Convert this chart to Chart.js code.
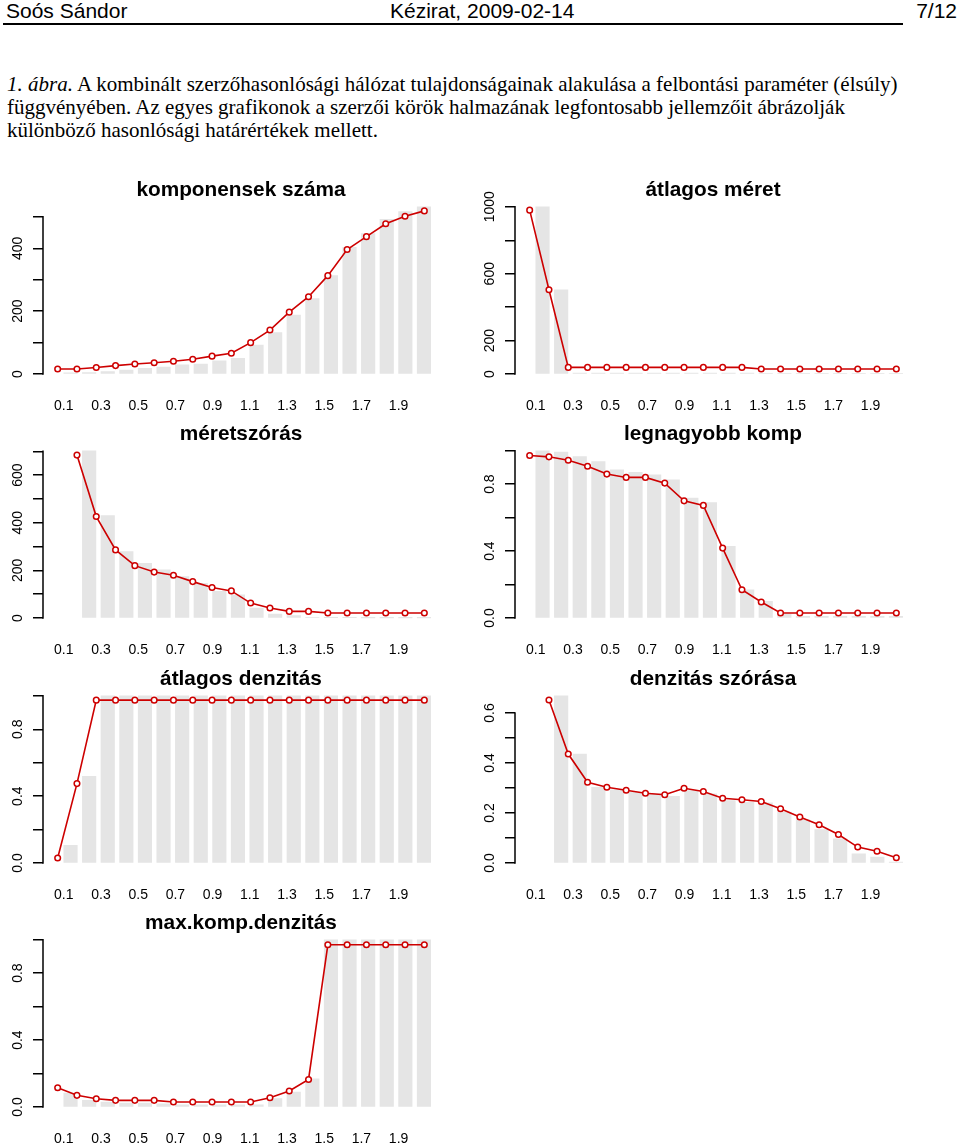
<!DOCTYPE html>
<html>
<head>
<meta charset="utf-8">
<script src="https://cdn.jsdelivr.net/npm/chart.js@4.4.1/dist/chart.umd.min.js"></script>
<style>
  body { margin: 0; background: #fff; width: 960px; height: 1146px; overflow: hidden; position: relative; }
  .hdr { position: absolute; top: 0; font: 21px "Liberation Sans", Arial, sans-serif; line-height: 21px; white-space: nowrap; }
  #rule { position: absolute; left: 3px; top: 23px; width: 900px; height: 2px; background: #000; }
  #cap { position: absolute; left: 7px; top: 73.4px; font: 21px "Liberation Serif", "Times New Roman", serif; line-height: 23px; white-space: nowrap; }
  .panel { position: absolute; width: 470px; height: 244px; }
</style>
</head>
<body>
<div class="hdr" style="left:6px">Soós Sándor</div>
<div class="hdr" style="left:390px">Kézirat, 2009-02-14</div>
<div class="hdr" style="right:3px">7/12</div>
<div id="rule"></div>
<div id="cap">
  <i>1. ábra.</i> A kombinált szerzőhasonlósági hálózat tulajdonságainak alakulása a felbontási paraméter (élsúly)<br>
  függvényében. Az egyes grafikonok a szerzői körök halmazának legfontosabb jellemzőit ábrázolják<br>
  különböző hasonlósági határértékek mellett.
</div>

<div class="panel" style="left:0;top:170px"><canvas id="c1" width="470" height="244"></canvas></div>
<div class="panel" style="left:472px;top:170px"><canvas id="c2" width="470" height="244"></canvas></div>
<div class="panel" style="left:0;top:414px"><canvas id="c3" width="470" height="244"></canvas></div>
<div class="panel" style="left:472px;top:414px"><canvas id="c4" width="470" height="244"></canvas></div>
<div class="panel" style="left:0;top:659px"><canvas id="c5" width="470" height="244"></canvas></div>
<div class="panel" style="left:472px;top:659px"><canvas id="c6" width="470" height="244"></canvas></div>
<div class="panel" style="left:0;top:903px"><canvas id="c7" width="470" height="244"></canvas></div>

<script>
// felbontási paraméter (élsúly)
const params = [0.1, 0.2, 0.3, 0.4, 0.5, 0.6, 0.7, 0.8, 0.9, 1.0, 1.1, 1.2, 1.3, 1.4, 1.5, 1.6, 1.7, 1.8, 1.9, 2.0];
const xTicks = [0.1, 0.3, 0.5, 0.7, 0.9, 1.1, 1.3, 1.5, 1.7, 1.9];

// komponensek száma
const kompBars = [4, 5, 8, 13, 18, 22, 29, 32, 42, 50, 92, 132, 188, 240, 313, 403, 447, 492, 517, 532];
const kompLine = [16, 16, 21, 27, 32, 36, 41, 47, 57, 66, 100, 140, 197, 246, 313, 396, 437, 478, 502, 519];
const kompTicks = [0, 100, 200, 300, 400, 500];
const kompLabels = [0, 200, 400];

// átlagos méret
const meretBars = [1000, 504, 6, 6, 6, 6, 6, 6, 6, 6, 6, 6, 4, 4, 4, 4, 4, 4, 4, 4];
const meretLine = [980, 504, 40, 40, 40, 40, 40, 40, 40, 40, 40, 40, 30, 30, 30, 30, 30, 30, 30, 30];
const meretTicks = [0, 200, 400, 600, 800, 1000];
const meretLabels = [0, 200, 600, 1000];

// méretszórás
const szorasBars = [null, 702, 430, 279, 230, 202, 174, 146, 112, 98, 42, 17, 10, 3, 2, 2, 1, 1, 1, 1];
const szorasLine = [null, 684, 426, 286, 220, 193, 180, 153, 128, 114, 63, 42, 28, 28, 21, 21, 21, 21, 21, 21];
const szorasTicks = [0, 100, 200, 300, 400, 500, 600, 700];
const szorasLabels = [0, 200, 400, 600];

// legnagyobb komp
const legnBars = [0.999, 0.991, 0.965, 0.935, 0.886, 0.870, 0.856, 0.826, 0.716, 0.690, 0.428, 0.169, 0.100, 0.024, 0.01, 0.01, 0.01, 0.01, 0.01, 0.01];
const legnLine = [0.971, 0.963, 0.943, 0.907, 0.860, 0.840, 0.840, 0.806, 0.700, 0.673, 0.418, 0.169, 0.096, 0.030, 0.030, 0.030, 0.030, 0.030, 0.030, 0.030];

// átlagos denzitás
const denzBars = [0.106, 0.519, 1, 1, 1, 1, 1, 1, 1, 1, 1, 1, 1, 1, 1, 1, 1, 1, 1, 1];
const denzLine = [0.030, 0.475, 0.974, 0.974, 0.974, 0.974, 0.974, 0.974, 0.974, 0.974, 0.974, 0.974, 0.974, 0.974, 0.974, 0.974, 0.974, 0.974, 0.974, 0.974];

// denzitás szórása
const dszBars = [null, 0.669, 0.436, 0.303, 0.293, 0.283, 0.277, 0.267, 0.290, 0.277, 0.250, 0.243, 0.241, 0.204, 0.174, 0.134, 0.097, 0.037, 0.024, 0.004];
const dszLine = [null, 0.652, 0.436, 0.323, 0.303, 0.291, 0.279, 0.273, 0.299, 0.286, 0.259, 0.253, 0.246, 0.217, 0.184, 0.153, 0.114, 0.064, 0.047, 0.021];
const dszTicks = [0, 0.1, 0.2, 0.3, 0.4, 0.5, 0.6];
const dszLabels = [0, 0.2, 0.4, 0.6];

// max.komp.denzitás
const maxkBars = [0.084, 0.040, 0.030, 0.024, 0.024, 0.020, 0.014, 0.014, 0.014, 0.014, 0.014, 0.050, 0.090, 0.169, 0.999, 0.999, 0.999, 0.999, 0.999, 0.999];
const maxkLine = [0.115, 0.070, 0.050, 0.040, 0.040, 0.040, 0.030, 0.030, 0.030, 0.030, 0.030, 0.056, 0.096, 0.165, 0.969, 0.969, 0.969, 0.969, 0.969, 0.969];

const unitTicks = [0, 0.2, 0.4, 0.6, 0.8, 1.0];
const unitLabels = [0, 0.4, 0.8];

const FONT = '"Liberation Sans", Arial, sans-serif';
const measureCtx = document.createElement('canvas').getContext('2d');
measureCtx.font = '14px ' + FONT;

// R style axis line: only from first to last tick
const axisLine = {
  id: 'axisLine',
  afterDraw(chart) {
    const s = chart.scales.y;
    const t = s.ticks;
    const ctx = chart.ctx;
    ctx.save();
    ctx.strokeStyle = '#000';
    ctx.lineWidth = 1.5;
    ctx.beginPath();
    ctx.moveTo(s.right, s.getPixelForValue(t[0].value) + 0.75);
    ctx.lineTo(s.right, s.getPixelForValue(t[t.length - 1].value) - 0.75);
    ctx.stroke();
    ctx.restore();
  }
};

function createPanel(id, title, bars, line, yTicks, yLabels, digits) {
  const maxBar = Math.max(...bars.filter(v => v !== null));
  const fmt = v => v.toFixed(digits);
  const widest = Math.max(...yLabels.map(v => measureCtx.measureText(fmt(v)).width));

  new Chart(document.getElementById(id), {
    type: 'bar',
    data: {
      datasets: [{
        type: 'line',
        xAxisID: 'xl',
        data: line.map((v, i) => ({ x: i + 1, y: v })),
        borderColor: '#cd0000',
        borderWidth: 1.6,
        pointRadius: 2.8,
        pointBorderWidth: 1.5,
        pointBackgroundColor: '#fff',
        pointBorderColor: '#cd0000',
        spanGaps: false,
        clip: false,
        order: 0
      }, {
        type: 'bar',
        xAxisID: 'x',
        data: bars.map((v, i) => ({ x: params[i], y: v })),
        backgroundColor: '#e5e5e5',
        borderWidth: 0,
        barThickness: 13.5,
        order: 1
      }]
    },
    options: {
      responsive: false,
      animation: false,
      layout: { padding: { left: 0, right: 31, top: 0, bottom: 0 } },
      plugins: {
        legend: { display: false },
        tooltip: { enabled: false },
        title: {
          display: true,
          text: title,
          fullSize: false,
          color: '#000',
          font: { family: FONT, size: 20.8, weight: 'bold', lineHeight: 0.93 },
          padding: { top: 10.7, bottom: 0 }
        }
      },
      scales: {
        x: {
          type: 'linear',
          offset: false,
          min: -0.0118,
          max: 2.1172,
          afterBuildTicks: s => { s.ticks = xTicks.map(v => ({ value: v })); },
          afterFit: s => { s.height = 31.5; },
          grid: { display: false, drawTicks: false },
          border: { display: false },
          ticks: {
            autoSkip: false,
            maxRotation: 0,
            padding: 15,
            color: '#000',
            font: { family: FONT, size: 14 },
            callback: v => v.toFixed(1)
          }
        },
        xl: {
          type: 'linear',
          display: false,
          offset: false,
          min: 0.24,
          max: 20.76
        },
        y: {
          position: 'left',
          min: -0.0504 * maxBar,
          max: 1.0404 * maxBar,
          afterBuildTicks: s => { s.ticks = yTicks.map(v => ({ value: v })); },
          afterFit: s => { s.width = 43; },
          border: { display: false },
          grid: { drawOnChartArea: false, drawTicks: true, tickLength: 10, color: '#000', lineWidth: 1.5 },
          ticks: {
            autoSkip: false,
            minRotation: 90,
            maxRotation: 90,
            crossAlign: 'center',
            padding: 15 - widest / 2,
            color: '#000',
            font: { family: FONT, size: 14 },
            callback: v => yLabels.some(l => Math.abs(l - v) < 1e-9) ? fmt(v) : ''
          }
        }
      }
    },
    plugins: [axisLine]
  });
}

createPanel('c1', 'komponensek száma', kompBars, kompLine, kompTicks, kompLabels, 0);
createPanel('c2', 'átlagos méret', meretBars, meretLine, meretTicks, meretLabels, 0);
createPanel('c3', 'méretszórás', szorasBars, szorasLine, szorasTicks, szorasLabels, 0);
createPanel('c4', 'legnagyobb komp', legnBars, legnLine, unitTicks, unitLabels, 1);
createPanel('c5', 'átlagos denzitás', denzBars, denzLine, unitTicks, unitLabels, 1);
createPanel('c6', 'denzitás szórása', dszBars, dszLine, dszTicks, dszLabels, 1);
createPanel('c7', 'max.komp.denzitás', maxkBars, maxkLine, unitTicks, unitLabels, 1);
</script>
</body>
</html>
